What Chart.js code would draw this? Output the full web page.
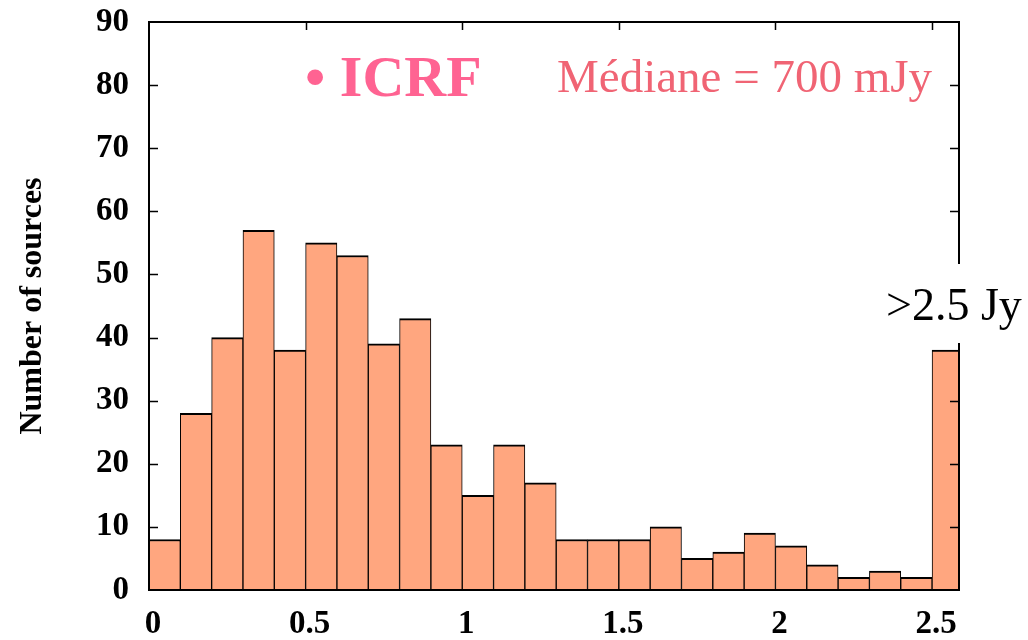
<!DOCTYPE html>
<html>
<head>
<meta charset="utf-8">
<script src="https://cdn.jsdelivr.net/npm/chart.js@4/dist/chart.umd.min.js"></script>
<style>
  html, body { margin: 0; padding: 0; background: #fff; }
  #wrap { width: 1028px; height: 640px; }
</style>
</head>
<body>
<div id="wrap"><canvas id="chart"></canvas></div>
<script>
// bin centres (flux density in Jy, 0.1 Jy bins; last bin = >2.5 Jy)
const binCenters = [0.05, 0.15, 0.25, 0.35, 0.45, 0.55, 0.65, 0.75, 0.85, 0.95,
  1.05, 1.15, 1.25, 1.35, 1.45, 1.55, 1.65, 1.75, 1.85, 1.95,
  2.05, 2.15, 2.25, 2.35, 2.45, 2.55];
const counts = [8, 28, 40, 57, 38, 55, 53, 39, 43, 23,
  15, 23, 17, 8, 8, 8, 10, 5, 6, 9,
  7, 4, 2, 3, 2, 38];
const xTickValues = [0, 0.5, 1, 1.5, 2, 2.5];
const xTickLabels = ['0', '0.5', '1', '1.5', '2', '2.5'];
const yTickValues = [0, 10, 20, 30, 40, 50, 60, 70, 80, 90];

const SERIF = '"Liberation Serif", "Times New Roman", serif';

// frame with inward ticks + the text labels inside the plot
const framePlugin = {
  id: 'frame',
  afterDraw(chart) {
    const { ctx, chartArea: a, scales: { x, y } } = chart;
    ctx.save();
    ctx.strokeStyle = '#000';
    ctx.lineWidth = 1.5;
    ctx.beginPath();
    for (const v of yTickValues.slice(1, -1)) {
      const py = Math.round(y.getPixelForValue(v)) + 0.5;
      ctx.moveTo(a.left, py); ctx.lineTo(a.left + 9, py);
      ctx.moveTo(a.right, py); ctx.lineTo(a.right - 9, py);
    }
    for (const v of xTickValues.slice(1)) {
      const px = Math.round(x.getPixelForValue(v)) + 0.5;
      ctx.moveTo(px, a.top); ctx.lineTo(px, a.top + 8);
    }
    ctx.stroke();

    ctx.lineWidth = 2;
    ctx.strokeRect(a.left, a.top, a.right - a.left, a.bottom - a.top);

    // >2.5 Jy label sits on a white patch over the right border
    ctx.fillStyle = '#fff';
    ctx.fillRect(884, 264, 144, 79);
    ctx.fillStyle = '#000';
    ctx.font = '46px ' + SERIF;
    ctx.textBaseline = 'alphabetic';
    ctx.textAlign = 'left';
    ctx.fillText('>2.5 Jy', 886, 320);

    ctx.fillStyle = '#FF6392';
    ctx.font = 'bold 58px ' + SERIF;
    ctx.fillText('\u2022 ICRF', 305, 96);

    ctx.fillStyle = '#F06474';
    ctx.font = '47px ' + SERIF;
    ctx.fillText('Médiane = 700 mJy', 557, 92);
    ctx.restore();
  }
};

new Chart(document.getElementById('chart').getContext('2d'), {
  type: 'bar',
  data: {
    datasets: [
      {
        label: 'ICRF',
        data: binCenters.map((c, i) => ({ x: c, y: counts[i] })),
        backgroundColor: '#FFA67F',
        borderColor: '#000',
        borderWidth: { top: 2, left: 1, right: 1, bottom: 0 },
        barPercentage: 1,
        categoryPercentage: 1,
      },
    ],
  },
  options: {
    responsive: true,
    maintainAspectRatio: false,
    animation: false,
    layout: { padding: { left: 0, right: 69, top: 22, bottom: 0 } },
    plugins: {
      legend: { display: false },
      tooltip: { enabled: false },
    },
    scales: {
      x: {
        type: 'linear',
        offset: false,
        min: 0,
        max: 2.586,
        grid: { display: false, drawTicks: false, offset: false },
        border: { display: false },
        afterBuildTicks: (scale) => {
          scale.ticks = xTickValues.map((v) => ({ value: v }));
        },
        afterFit: (scale) => {
          scale.height = 50;
          scale.paddingLeft = 0;
          scale.paddingRight = 0;
        },
        ticks: {
          autoSkip: false,
          maxRotation: 0,
          padding: 15,
          labelOffset: 4,
          color: '#000',
          font: { family: SERIF, size: 33, weight: 'bold' },
          callback: (v) => xTickLabels[xTickValues.indexOf(v)],
        },
      },
      y: {
        min: 0,
        max: 90,
        grid: { display: false, drawTicks: false },
        border: { display: false },
        afterBuildTicks: (scale) => {
          scale.ticks = yTickValues.map((v) => ({ value: v }));
        },
        afterFit: (scale) => {
          scale.width = 149;
          scale.paddingTop = 0;
          scale.paddingBottom = 0;
        },
        ticks: {
          padding: 20,
          color: '#000',
          font: { family: SERIF, size: 33, weight: 'bold' },
        },
        title: {
          display: true,
          text: 'Number of sources',
          color: '#000',
          padding: { top: 14, bottom: 0 },
          font: { family: SERIF, size: 32, weight: 'bold' },
        },
      },
    },
  },
  plugins: [framePlugin],
});
</script>
</body>
</html>
